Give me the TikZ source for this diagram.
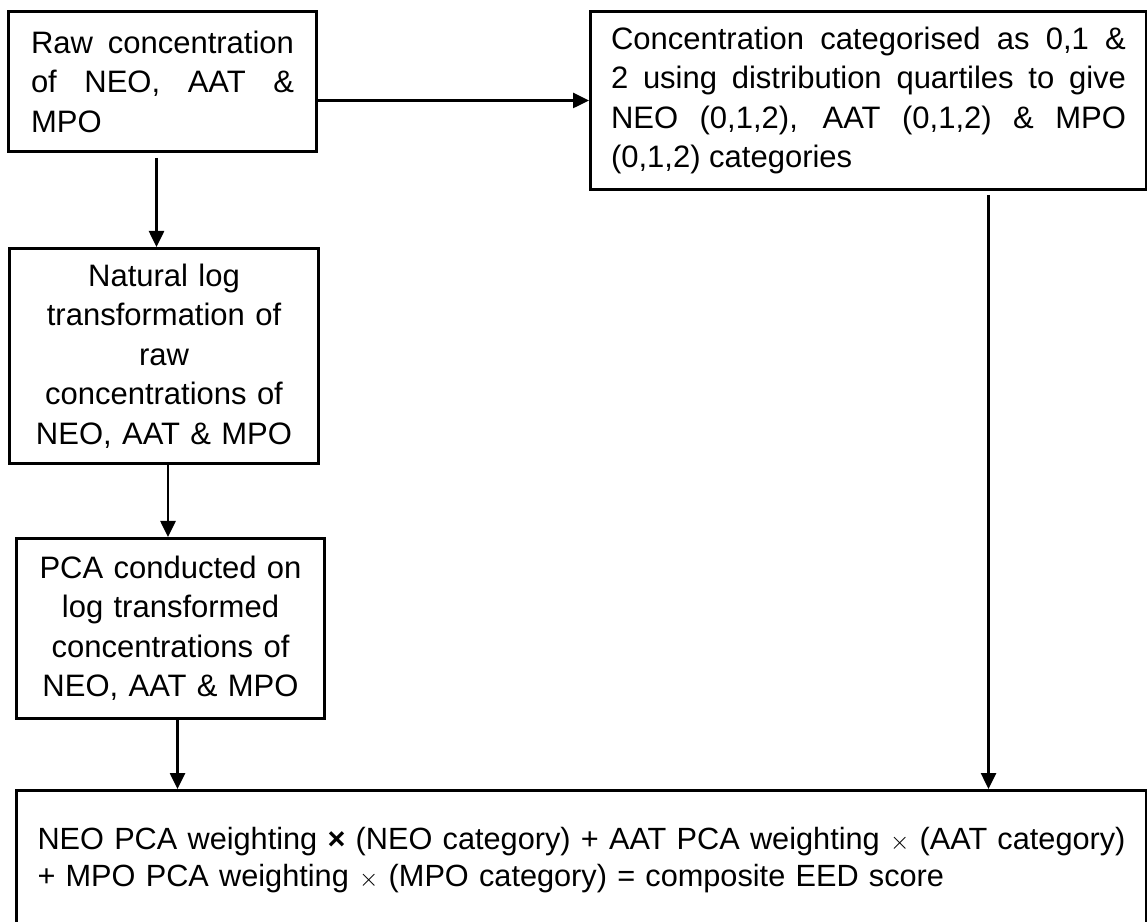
\documentclass[tikz,border=0pt]{standalone}
\usepackage{fontspec}
\setmainfont{Liberation Sans}
\usetikzlibrary{arrows.meta}

\tikzset{
  box/.style={draw, line width=3pt, anchor=north west, inner sep=0pt,
    font=\fontsize{31}{39.5}\selectfont},
  link/.style={line width=2.6pt, -{Triangle[length=16pt,width=15pt]}}
}

\begin{document}
\begin{tikzpicture}[x=1pt,y=1pt]
    \useasboundingbox (0,0) rectangle (1147,921);

    % Boxes
    \node[box, minimum width=308pt, minimum height=140pt, text width=263pt, align=justify] (raw) at (7,911)
        {Raw concentration\linebreak of NEO, AAT \&\linebreak MPO};
    \node[box, minimum width=556pt, minimum height=178pt, text width=515pt, align=justify] (cat) at (589,911)
        {Concentration categorised as 0,1 \&\linebreak 2 using distribution quartiles to give\linebreak NEO (0,1,2), AAT (0,1,2) \& MPO\linebreak (0,1,2) categories};
    \node[box, minimum width=309pt, minimum height=215pt, text width=290pt, align=center] (natural) at (8,674)
        {Natural log\\ transformation of\\ raw\\ concentrations of\\ NEO, AAT \& MPO};
    \node[box, minimum width=308pt, minimum height=180pt, text width=290pt, align=center] (pca) at (15,384)
        {PCA conducted on\\ log transformed\\ concentrations of\\ NEO, AAT \& MPO};
    \node[box, minimum width=1130pt, minimum height=140pt, text width=1088pt, align=left,
          font=\fontsize{30.7}{37}\selectfont] (score) at (15,132)
        {NEO PCA weighting \textbf{×} (NEO category) + AAT PCA weighting $\times$ (AAT category)\\ + MPO PCA weighting $\times$ (MPO category) = composite EED score};

    % Arrows
    \draw[link] (raw.east |- cat.west) -- (cat.west);
    \draw[link] ([xshift=-6pt,yshift=-5pt]raw.south) -- ([xshift=-6pt]raw.south |- natural.north);
    \draw[link] ([xshift=4pt]natural.south) -- ([xshift=4pt]natural.south |- pca.north);
    \draw[link] ([xshift=7pt]pca.south) -- ([xshift=7pt]pca.south |- score.north);
    \draw[link] ([xshift=120pt,yshift=-4pt]cat.south) -- ([xshift=120pt]cat.south |- score.north);
\end{tikzpicture}
\end{document}
